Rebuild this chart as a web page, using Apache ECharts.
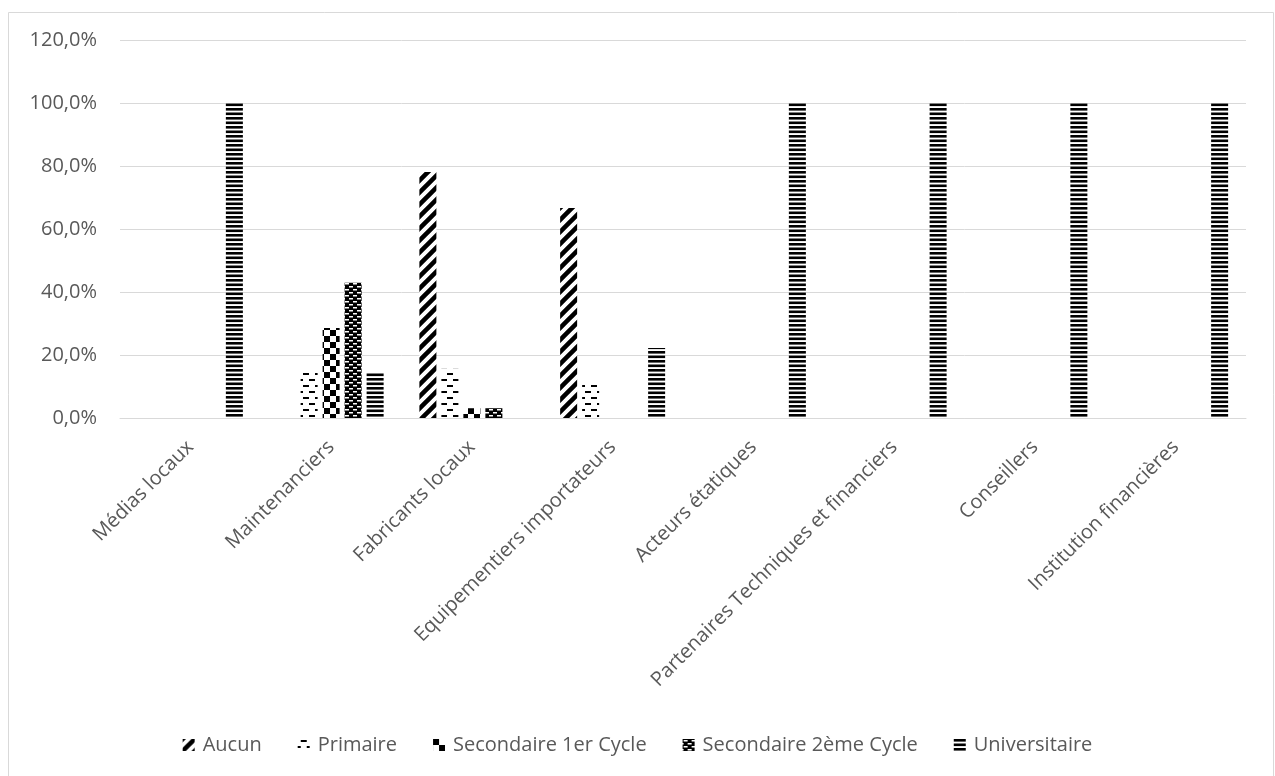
<!DOCTYPE html>
<html>
<head>
<meta charset="utf-8">
<script src="https://cdn.jsdelivr.net/npm/echarts@6/dist/echarts.min.js"></script>
<style>
  html, body { margin: 0; padding: 0; background: #ffffff; }
  #chart { width: 1275px; height: 776px; }
</style>
</head>
<body>
<div id="chart"></div>
<script>
// Niveau d'instruction par type d'acteur (part en %)
const categories = [
  'Médias locaux',
  'Maintenanciers',
  'Fabricants locaux',
  'Equipementiers importateurs',
  'Acteurs étatiques',
  'Partenaires Techniques et financiers',
  'Conseillers',
  'Institution financières'
];
const seriesNames = ['Aucun', 'Primaire', 'Secondaire 1er Cycle', 'Secondaire 2ème Cycle', 'Universitaire'];
const aucun         = [0, 0,    78.1, 66.7, 0, 0, 0, 0];
const primaire      = [0, 14.3, 15.6, 11.1, 0, 0, 0, 0];
const secondaire1   = [0, 28.6, 3.1,  0,    0, 0, 0, 0];
const secondaire2   = [0, 42.9, 3.1,  0,    0, 0, 0, 0];
const universitaire = [100, 14.3, 0, 22.2, 100, 100, 100, 100];
const yTicks = [0, 20, 40, 60, 80, 100, 120];

// Black-on-white fill patterns, one per level
function tile(w, h, draw) {
  const c = document.createElement('canvas');
  c.width = w; c.height = h;
  const g = c.getContext('2d');
  g.fillStyle = '#ffffff';
  g.fillRect(0, 0, w, h);
  g.fillStyle = '#000000';
  g.strokeStyle = '#000000';
  draw(g, w, h);
  return { image: c, repeat: 'repeat' };
}
const patterns = [
  // wide upward diagonal
  tile(12, 12, (g) => {
    g.lineWidth = 4.5;
    g.beginPath();
    g.moveTo(-3, 15); g.lineTo(15, -3);
    g.moveTo(-9, 9); g.lineTo(9, -9);
    g.moveTo(3, 21); g.lineTo(21, 3);
    g.stroke();
  }),
  // dashed horizontal
  tile(12, 12, (g) => {
    g.fillRect(3, 1, 6, 2);
    g.fillRect(0, 7, 3, 2);
    g.fillRect(9, 7, 3, 2);
  }),
  // large checkerboard
  tile(12, 12, (g) => {
    g.fillRect(0, 0, 6, 6);
    g.fillRect(6, 6, 6, 6);
  }),
  // small brick grid
  tile(8, 6, (g) => {
    g.fillRect(0, 0, 8, 6);
    g.fillStyle = '#ffffff';
    g.fillRect(1, 1, 4, 1.5);
    g.fillRect(5, 4, 3, 1.5);
    g.fillRect(0, 4, 1, 1.5);
  }),
  // narrow horizontal lines
  tile(4, 9, (g) => {
    g.fillRect(0, 0, 4, 2.6);
    g.fillRect(0, 4.5, 4, 2.6);
  })
];

const dataSets = [aucun, primaire, secondaire1, secondaire2, universitaire];

const chart = echarts.init(document.getElementById('chart'), null, { renderer: 'canvas' });

const textColor = '#595959';
const font = 'Open Sans, Noto Sans, sans-serif';

chart.setOption({
  animation: false,
  backgroundColor: '#ffffff',
  textStyle: { fontFamily: font },
  graphic: [{
    type: 'rect',
    shape: { x: 8.5, y: 12.5, width: 1265, height: 770 },
    style: { fill: 'none', stroke: '#d9d9d9', lineWidth: 1 },
    silent: true
  }],
  legend: {
    top: 730,
    left: 'center',
    itemWidth: 12,
    itemHeight: 12,
    itemGap: 36,
    icon: 'rect',
    textStyle: { color: textColor, fontSize: 20, fontFamily: font, padding: [0, 0, 0, 3] },
    data: seriesNames
  },
  grid: { left: 120, right: 29, top: 40, bottom: 358, containLabel: false },
  xAxis: {
    type: 'category',
    data: categories,
    axisLine: { show: true, lineStyle: { color: '#d9d9d9', width: 1 } },
    axisTick: { show: false },
    axisLabel: {
      rotate: 45,
      interval: 0,
      margin: 26,
      color: textColor,
      fontSize: 20,
      fontFamily: font
    }
  },
  yAxis: {
    type: 'value',
    min: yTicks[0],
    max: yTicks[yTicks.length - 1],
    interval: 20,
    axisLine: { show: false },
    axisTick: { show: false },
    splitLine: { lineStyle: { color: '#d9d9d9', width: 1 } },
    axisLabel: {
      color: textColor,
      fontSize: 20,
      fontFamily: font,
      margin: 23,
      formatter: (v) => v.toFixed(1).replace('.', ',') + '%'
    }
  },
  series: seriesNames.map((name, i) => ({
    name: name,
    type: 'bar',
    data: dataSets[i],
    barWidth: 17,
    barGap: '29.4%',
    itemStyle: { color: patterns[i] }
  }))
});
</script>
</body>
</html>
